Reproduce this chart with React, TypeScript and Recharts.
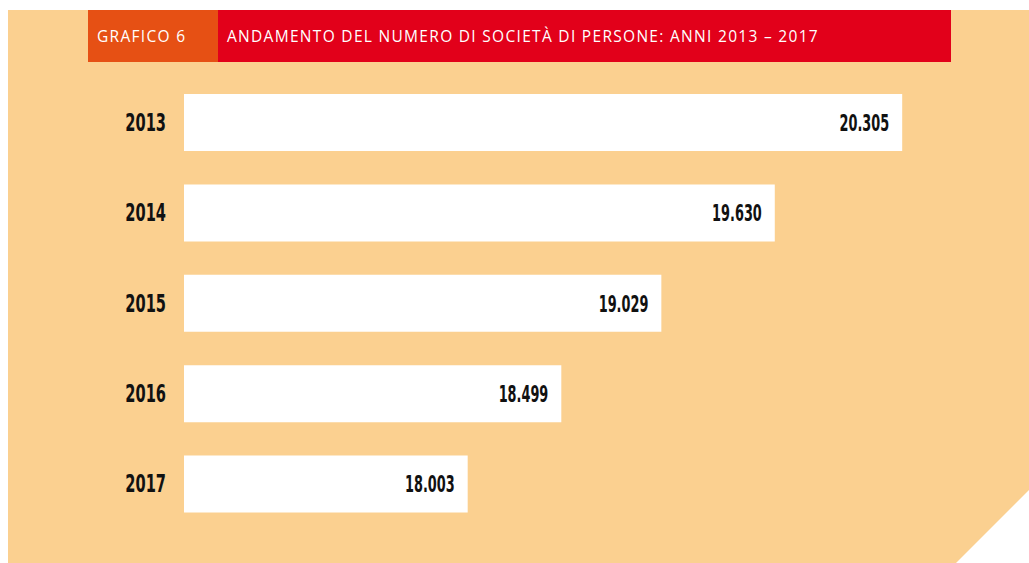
import React from 'react';
import { BarChart, Bar, XAxis, YAxis, LabelList } from 'recharts';

const YEARS = ['2013', '2014', '2015', '2016', '2017'];
const SOCIETA = [20305, 19630, 19029, 18499, 18003];

const PANEL = '#FBD090';
const ORANGE = '#E65014';
const RED = '#E2001A';
const NUM_FONT = '"DejaVu Sans", sans-serif';

const data = YEARS.map((year, i) => ({ year, value: SOCIETA[i] }));

const formatIt = (v: number) => String(v).replace(/\B(?=(\d{3})+(?!\d))/g, '.');

// no condensed face installed, so squeeze the bold face horizontally
const Squeezed = ({ x, y, text, size, sx }: { x: number; y: number; text: string; size: number; sx: number }) => (
  <text
    transform={`translate(${x},${y}) scale(${sx},1)`}
    x={0}
    y={0}
    dy={size * 0.36}
    textAnchor="end"
    fontFamily={NUM_FONT}
    fontWeight={700}
    fontSize={size}
    fill="#111"
  >
    {text}
  </text>
);

const YearTick = (props: any) => {
  const { x, y, payload } = props;
  return <Squeezed x={x - 10} y={y} text={payload.value} size={24} sx={0.61} />;
};

const ValueLabel = (props: any) => {
  const { x, y, width, height, value } = props;
  return <Squeezed x={x + width - 13} y={y + height / 2} text={formatIt(Number(value))} size={23} sx={0.56} />;
};

const headerText: React.CSSProperties = {
  position: 'absolute',
  top: 10,
  height: 52,
  color: '#fff',
  fontFamily: '"Open Sans", "Lato", sans-serif',
  fontSize: 15.5,
  lineHeight: '52px',
  paddingLeft: 9,
  boxSizing: 'border-box',
  letterSpacing: 1.3,
  whiteSpace: 'nowrap',
};

export default function App() {
  return (
    <div style={{ position: 'absolute', left: 0, top: 0, width: 1029, height: 563, background: '#fff' }}>
      <div
        style={{
          position: 'absolute',
          left: 8,
          top: 10,
          width: 1021,
          height: 553,
          background: PANEL,
          clipPath: 'polygon(0 0, 100% 0, 100% 480px, 948px 100%, 0 100%)',
        }}
      />
      <div style={{ ...headerText, left: 88, width: 130, background: ORANGE }}>GRAFICO 6</div>
      <div style={{ ...headerText, left: 218, width: 733, background: RED }}>
        ANDAMENTO DEL NUMERO DI SOCIETÀ DI PERSONE: ANNI 2013 – 2017
      </div>
      <div style={{ position: 'absolute', left: 0, top: 0 }}>
        <BarChart
          width={1029}
          height={563}
          data={data}
          layout="vertical"
          margin={{ top: 77, right: 90, bottom: 34, left: 0 }}
        >
          <XAxis type="number" dataKey="value" domain={[16500, 20500]} hide />
          <YAxis
            type="category"
            dataKey="year"
            width={184}
            axisLine={false}
            tickLine={false}
            tick={<YearTick />}
          />
          <Bar dataKey="value" fill="#fff" barSize={57} isAnimationActive={false}>
            <LabelList dataKey="value" content={<ValueLabel />} />
          </Bar>
        </BarChart>
      </div>
    </div>
  );
}
